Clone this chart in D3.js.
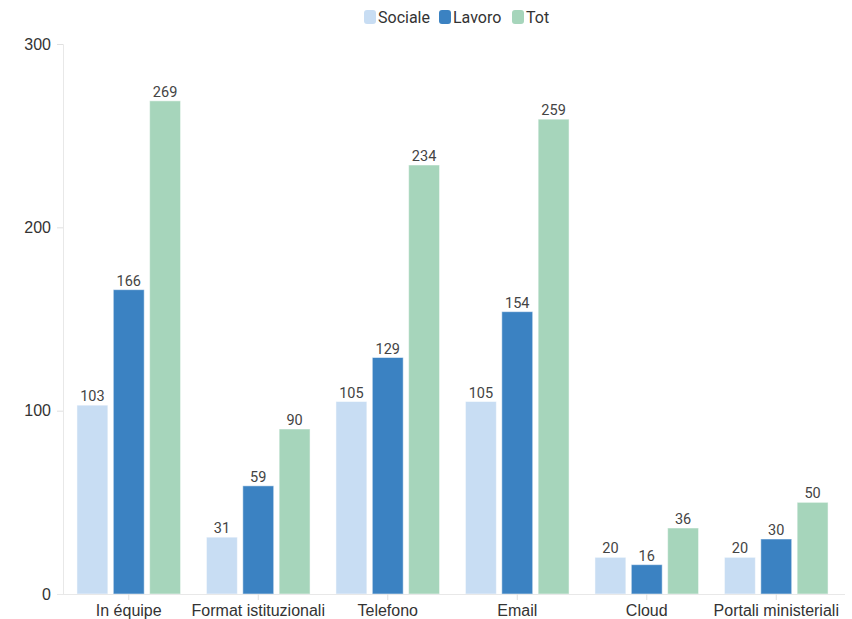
<!DOCTYPE html>
<html>
<head>
<meta charset="utf-8">
<script src="https://cdn.jsdelivr.net/npm/d3@7"></script>
<style>
  body { margin: 0; background: #fff; }
  svg { font-family: Roboto, "Noto Sans", sans-serif; }
</style>
</head>
<body>
<svg id="chart"></svg>
<script>
var categories = ["In équipe", "Format istituzionali", "Telefono", "Email", "Cloud", "Portali ministeriali"];
var seriesNames = ["Sociale", "Lavoro", "Tot"];
var sociale = [103, 31, 105, 105, 20, 20];
var lavoro = [166, 59, 129, 154, 16, 30];
var tot = [269, 90, 234, 259, 36, 50];
var yTicks = [0, 100, 200, 300];
var colors = ["#c8ddf3", "#3b82c2", "#a6d5bb"];

var dimensions = {
  width: 852,
  height: 619,
  margin: { top: 44, right: 11, bottom: 25, left: 64 },
};
dimensions.boundedWidth = dimensions.width - dimensions.margin.left - dimensions.margin.right;
dimensions.boundedHeight = dimensions.height - dimensions.margin.top - dimensions.margin.bottom;

var data = categories.map(function (c, i) {
  return { cat: c, values: [sociale[i], lavoro[i], tot[i]] };
});

var svg = d3.select("#chart")
  .attr("width", dimensions.width)
  .attr("height", dimensions.height);

var xScale = d3.scaleBand()
  .domain(categories)
  .range([0, dimensions.boundedWidth])
  .paddingInner(0.2)
  .paddingOuter(0.1);

var x1 = d3.scaleBand()
  .domain(seriesNames)
  .range([0, xScale.bandwidth()])
  .paddingInner(0.15)
  .paddingOuter(0);

var yScale = d3.scaleLinear()
  .domain([0, 300])
  .range([dimensions.boundedHeight, 0]);

var bounds = svg.append("g")
  .attr("transform", "translate(" + dimensions.margin.left + "," + dimensions.margin.top + ")");

// y axis
var yAxis = bounds.append("g")
  .attr("transform", "translate(-1,0)")
  .call(d3.axisLeft(yScale).tickValues(yTicks).tickSize(6).tickPadding(6));
yAxis.select(".domain").attr("stroke", "#e8e8e8");
yAxis.selectAll(".tick line").attr("stroke", "#e0e0e0");
yAxis.selectAll("text").attr("fill", "#333").style("font-size", "16px");

// bars
var groups = bounds.selectAll(".grp")
  .data(data)
  .enter()
  .append("g")
  .attr("transform", function (d) { return "translate(" + xScale(d.cat) + ",0)"; });

groups.selectAll("rect")
  .data(function (d) { return d.values.map(function (v, i) { return { key: seriesNames[i], v: v, i: i }; }); })
  .enter()
  .append("rect")
  .attr("x", function (d) { return x1(d.key); })
  .attr("width", x1.bandwidth())
  .attr("y", function (d) { return yScale(d.v); })
  .attr("height", function (d) { return dimensions.boundedHeight - yScale(d.v); })
  .attr("fill", function (d) { return colors[d.i]; })
  .attr("stroke", "#fff")
  .attr("stroke-opacity", 0.5)
  .attr("stroke-width", 1);

groups.selectAll(".val")
  .data(function (d) { return d.values.map(function (v, i) { return { key: seriesNames[i], v: v, i: i }; }); })
  .enter()
  .append("text")
  .attr("x", function (d) { return x1(d.key) + x1.bandwidth() / 2; })
  .attr("y", function (d) { return yScale(d.v) - 4; })
  .attr("text-anchor", "middle")
  .attr("fill", "#444")
  .style("font-size", "14.5px")
  .text(function (d) { return d.v; });

// x axis
var xAxis = bounds.append("g")
  .attr("transform", "translate(0," + dimensions.boundedHeight + ")")
  .call(d3.axisBottom(xScale).tickSize(6).tickSizeOuter(0).tickPadding(5));
xAxis.select(".domain").attr("stroke", "#e8e8e8").attr("d", "M-7,0.5H" + (dimensions.boundedWidth + 4));
xAxis.selectAll(".tick line").attr("stroke", "#e0e0e0");
xAxis.selectAll("text").attr("fill", "#333").style("font-size", "16px");

// legend
var legendX = [364, 439, 512];
var legend = svg.append("g");
seriesNames.forEach(function (name, i) {
  var g = legend.append("g").attr("transform", "translate(" + legendX[i] + ",10)");
  g.append("rect")
    .attr("width", 12)
    .attr("height", 14)
    .attr("rx", 3)
    .attr("fill", colors[i]);
  g.append("text")
    .attr("x", 14)
    .attr("y", 13)
    .attr("fill", "#333")
    .style("font-size", "16px")
    .text(name);
});
</script>
</body>
</html>
